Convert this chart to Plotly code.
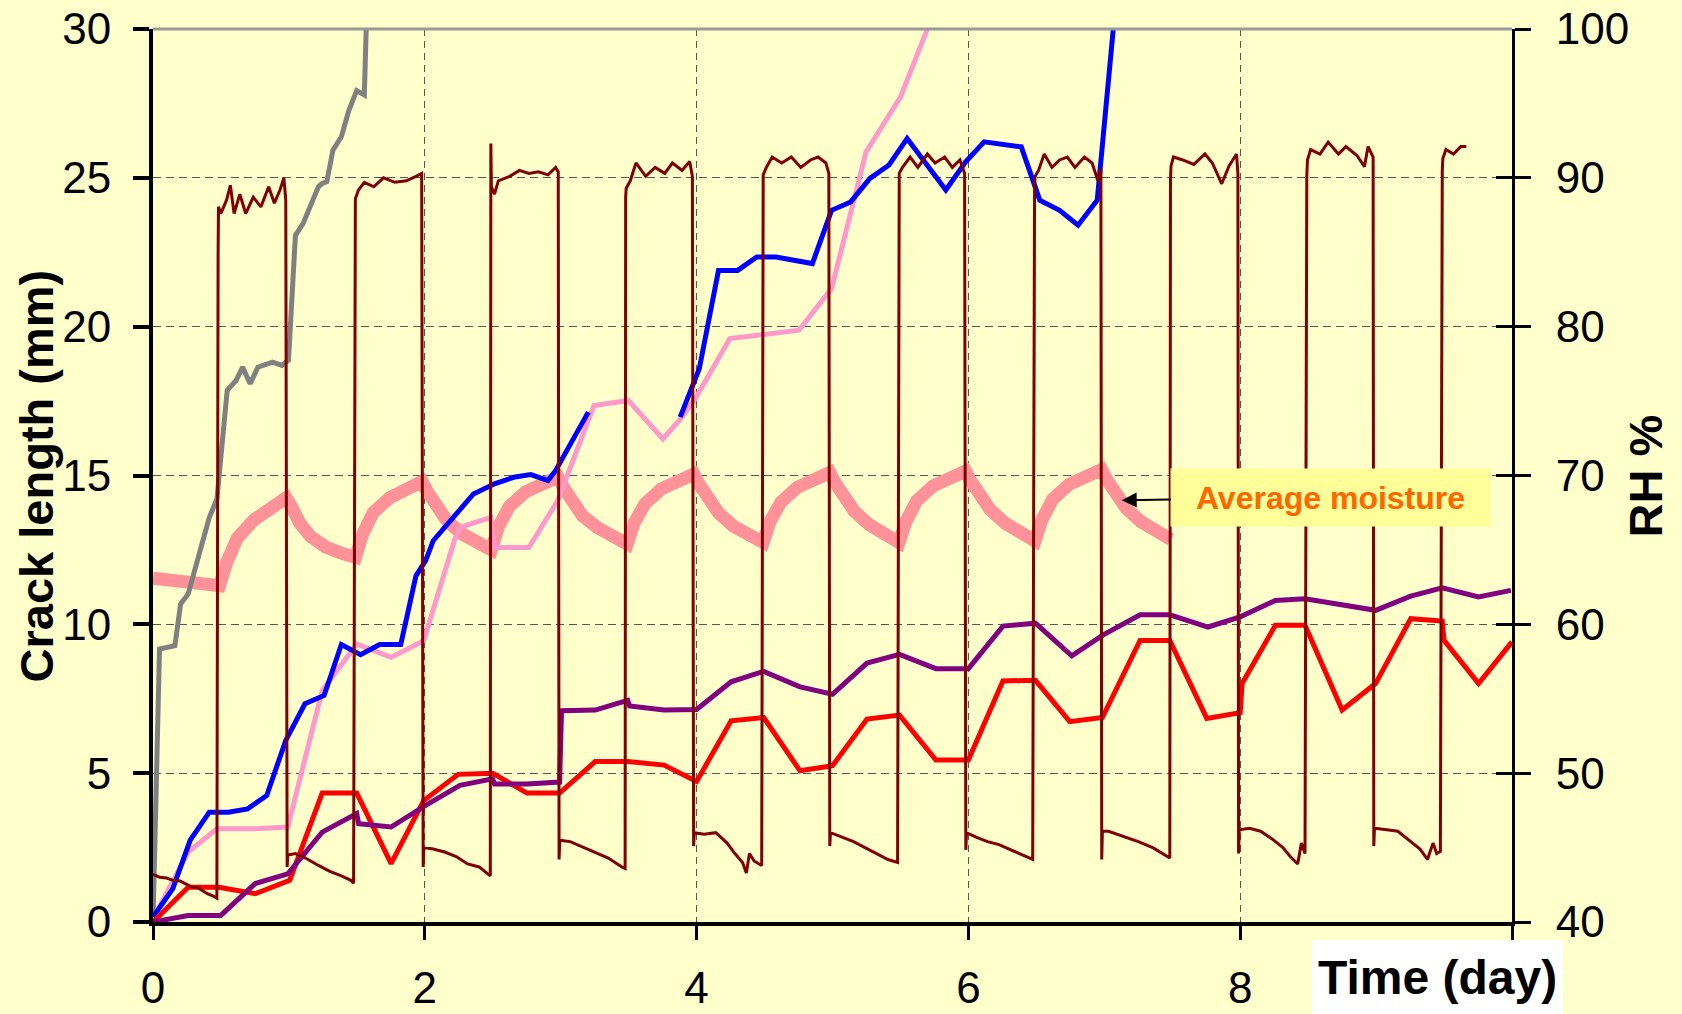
import plotly.graph_objects as go

# ---- crack length (mm) versus time (day), one series per specimen ----
gray_day = [0, 0.048, 0.161, 0.203, 0.259, 0.344, 0.414, 0.47, 0.546, 0.611, 0.659, 0.715,
            0.772, 0.879, 0.949, 0.997, 1.048, 1.104, 1.217, 1.245, 1.279, 1.324, 1.386,
            1.442, 1.499, 1.555, 1.569, 1.575]
gray_mm = [0, 9.17, 9.28, 10.68, 11.02, 12.47, 13.59, 14.2, 17.86, 18.19, 18.64, 18.08,
           18.64, 18.81, 18.70, 18.87, 23.07, 23.46, 24.70, 24.81, 24.87, 25.93, 26.38,
           27.28, 27.93, 27.78, 30.0, 31.0]

blue_day = [0, 0.146, 0.273, 0.414, 0.555, 0.696, 0.837, 0.977, 1.118, 1.259, 1.386, 1.527,
            1.668, 1.823, 1.935, 2.006, 2.062, 2.146, 2.259, 2.358, 2.513, 2.654, 2.780,
            2.907, 2.963, 3.048, 3.203, None, 3.879, 4.02, 4.161, 4.302, 4.443, 4.584,
            4.852, 4.993, 5.134, 5.275, 5.416, 5.549, 5.834, 5.98, 6.116, 6.389, 6.525,
            6.671, 6.807, 6.948, 7.066, 7.08]
blue_mm = [0.17, 1.12, 2.74, 3.69, 3.69, 3.80, 4.25, 6.10, 7.33, 7.61, 9.32, 8.98,
           9.32, 9.32, 11.63, 12.14, 12.81, 13.26, 13.81, 14.38, 14.72, 14.94, 15.03,
           14.83, 15.17, 15.84, 17.13, None, 16.96, 18.59, 21.89, 21.89, 22.34, 22.34,
           22.12, 23.91, 24.19, 24.98, 25.43, 26.32, 24.59, 25.54, 26.21, 26.04, 24.25,
           23.91, 23.41, 24.25, 30.0, 30.3]

pink_day = [0, 0.259, 0.470, 0.752, 0.992, 1.245, 1.499, 1.752, 1.992, 2.217, 2.259, 2.485,
            2.513, 2.766, 2.977, 3.245, 3.498, 3.752, 3.893, 3.99, 4.245, 4.471, 4.753,
            4.993, 5.247, 5.501, 5.698, 5.71]
pink_mm = [0.11, 2.35, 3.13, 3.13, 3.19, 7.77, 9.34, 8.89, 9.45, 12.81, 13.26, 13.59,
           12.58, 12.58, 14.15, 17.35, 17.52, 16.23, 16.96, 17.58, 19.60, 19.71, 19.88,
           21.28, 25.87, 27.72, 30.0, 30.3]

red_day = [0, 0.259, 0.485, 0.752, 1.006, 1.245, 1.499, 1.752, 1.992, 2.245, 2.499, 2.752,
           2.992, 3.254, 3.493, 3.76, 4.0, 4.254, 4.493, 4.761, 5.0, 5.254, 5.493, 5.761,
           6.0, 6.254, 6.493, 6.746, 6.986, 7.263, 7.482, 7.754, 8.0, 8.014, 8.259, 8.477,
           8.75, 8.996, 9.255, 9.487, 9.50, 9.754, 10.0]
red_mm = [0, 1.17, 1.17, 0.95, 1.40, 4.33, 4.33, 1.96, 4.08, 4.96, 5.0, 4.33,
          4.33, 5.39, 5.39, 5.27, 4.72, 6.76, 6.87, 5.08, 5.25, 6.82, 6.95, 5.44,
          5.44, 8.10, 8.12, 6.73, 6.87, 9.46, 9.46, 6.84, 7.03, 8.01, 9.97, 9.97,
          7.12, 8.01, 10.19, 10.11, 9.46, 8.01, 9.41]

purple_day = [0, 0.259, 0.499, 0.752, 0.992, 1.245, 1.499, 1.513, 1.752, 2.006, 2.259, 2.499,
              2.513, 2.752, 2.992, 3.006, 3.254, 3.493, 3.507, 3.76, 4.0, 4.254, 4.493,
              4.761, 5.0, 5.254, 5.493, 5.761, 6.0, 6.254, 6.493, 6.761, 6.986, 7.263,
              7.482, 7.763, 8.0, 8.259, 8.477, 8.996, 9.255, 9.487, 9.754, 9.992]
purple_mm = [0, 0.22, 0.22, 1.29, 1.62, 3.02, 3.64, 3.3, 3.19, 3.92, 4.59, 4.81,
             4.64, 4.64, 4.70, 7.10, 7.12, 7.45, 7.26, 7.12, 7.14, 8.07, 8.42,
             7.9, 7.65, 8.70, 8.99, 8.51, 8.51, 9.94, 10.04, 8.94, 9.63, 10.32,
             10.32, 9.91, 10.25, 10.80, 10.86, 10.47, 10.95, 11.23, 10.92, 11.14]

# ---- average moisture (plotted on the crack-length scale) ----
moist_day = [0.00, 0.15, 0.30, 0.49,
             0.54, 0.62, 0.74, 0.86, 0.98,
             1.02, 1.08, 1.16, 1.27, 1.38, 1.49,
             1.54, 1.62, 1.74, 1.86, 1.98,
             2.02, 2.08, 2.16, 2.27, 2.38, 2.49,
             2.54, 2.62, 2.74, 2.86, 2.98,
             3.02, 3.08, 3.16, 3.27, 3.38, 3.49,
             3.54, 3.62, 3.74, 3.86, 3.98,
             4.02, 4.08, 4.16, 4.27, 4.38, 4.49,
             4.54, 4.62, 4.74, 4.86, 4.98,
             5.02, 5.08, 5.16, 5.27, 5.38, 5.49,
             5.54, 5.62, 5.74, 5.86, 5.98,
             6.02, 6.08, 6.16, 6.27, 6.38, 6.49,
             6.54, 6.62, 6.74, 6.86, 6.98,
             7.02, 7.08, 7.16, 7.27, 7.38, 7.49]
moist_val = [11.55, 11.45, 11.35, 11.3,
             12.05, 12.9, 13.5, 13.9, 14.25,
             13.95, 13.4, 12.95, 12.6, 12.4, 12.25,
             13.0, 13.75, 14.25, 14.55, 14.8,
             14.45, 13.95, 13.5, 13.05, 12.75, 12.5,
             13.25, 13.95, 14.45, 14.75, 14.95,
             14.6, 14.1, 13.65, 13.25, 12.95, 12.7,
             13.4, 14.05, 14.55, 14.85, 15.05,
             14.7, 14.2, 13.75, 13.3, 13.0, 12.75,
             13.45, 14.1, 14.6, 14.9, 15.1,
             14.75, 14.25, 13.8, 13.35, 13.0, 12.75,
             13.45, 14.15, 14.65, 14.95, 15.15,
             14.8, 14.3, 13.85, 13.4, 13.05, 12.8,
             13.5, 14.2, 14.7, 15.0, 15.2,
             14.85, 14.35, 13.9, 13.45, 13.1, 12.85]

# ---- relative humidity (%) logged in the chamber ----
rh_day = [0.00, 0.05, 0.10, 0.146, 0.20, 0.25, 0.287, 0.33, 0.37, 0.40, 0.44, 0.47,
          0.479, 0.482, 0.499, 0.541, 0.569, 0.597, 0.639, 0.682, 0.738, 0.794, 0.851, 0.893, 0.935, 0.963, 0.977,
          0.987, 0.992, 1.048, 1.132, 1.217, 1.301, 1.386, 1.456, 1.476,
          1.485, 1.489, 1.513, 1.555, 1.625, 1.696, 1.780, 1.865, 1.935, 1.977,
          1.988, 1.993, 2.062, 2.146, 2.231, 2.315, 2.40, 2.47, 2.482,
          2.486, 2.49, 2.513, 2.541, 2.625, 2.696, 2.766, 2.837, 2.907, 2.963, 2.982,
          2.988, 2.993, 3.07, 3.21, 3.35, 3.45, 3.474,
          3.478, 3.482, 3.512, 3.554, 3.625, 3.695, 3.766, 3.822, 3.893, 3.949, 3.969,
          3.978, 3.983, 4.056, 4.141, 4.225, 4.282, 4.338, 4.366, 4.389, 4.423, 4.479,
          4.485, 4.49, 4.513, 4.556, 4.626, 4.697, 4.767, 4.838, 4.894, 4.951, 4.973,
          4.980, 4.985, 5.070, 5.155, 5.239, 5.324, 5.408, 5.479,
          5.487, 5.491, 5.515, 5.571, 5.628, 5.698, 5.755, 5.825, 5.882, 5.938, 5.972,
          5.981, 5.986, 6.056, 6.141, 6.225, 6.310, 6.394, 6.473,
          6.487, 6.491, 6.516, 6.558, 6.615, 6.671, 6.728, 6.784, 6.854, 6.910, 6.953, 6.975,
          6.981, 6.986, 7.031, 7.14, 7.25, 7.36, 7.454, 7.482,
          7.487, 7.491, 7.509, 7.577, 7.659, 7.741, 7.795, 7.864, 7.918, 7.973, 7.983,
          7.988, 7.993, 8.068, 8.150, 8.232, 8.314, 8.368, 8.423, 8.45, 8.477,
          8.490, 8.495, 8.518, 8.587, 8.647, 8.723, 8.778, 8.859, 8.914, 8.941, 8.978,
          8.983, 8.988, 9.078, 9.160, 9.241, 9.323, 9.378, 9.419, 9.446, 9.473,
          9.487, 9.491, 9.514, 9.569, 9.623, 9.664]
rh_pct = [43.2, 43.0, 42.95, 42.8, 42.75, 42.5, 42.35, 42.3, 42.05, 41.9, 41.75, 41.6,
          84.9, 88.05, 87.6, 88.5, 89.5, 87.6, 88.9, 87.6, 88.7, 88.05, 89.4, 88.3, 89.2, 90.0, 88.5,
          43.7, 44.5, 44.6, 44.25, 43.8, 43.4, 43.1, 42.8, 42.6,
          87.8, 88.6, 89.2, 89.7, 89.4, 90.0, 89.7, 89.8, 90.1, 90.3,
          43.7, 45.0, 44.9, 44.7, 44.4, 43.9, 43.7, 43.2, 43.1,
          92.3, 89.4, 88.9, 89.8, 90.1, 90.5, 90.3, 90.4, 90.2, 90.7, 90.4,
          44.2, 45.5, 45.4, 44.85, 44.3, 43.7, 43.6,
          88.7, 89.3, 89.8, 91.0, 90.1, 90.7, 90.3, 91.0, 90.5, 91.1, 90.1,
          45.1, 46.0, 45.9, 46.0, 45.3, 44.6, 44.0, 43.3, 44.6, 44.1, 43.8,
          89.4, 90.2, 90.7, 91.4, 91.0, 91.4, 90.7, 91.2, 91.4, 91.0, 90.3,
          45.1, 46.0, 45.7, 45.4, 45.0, 44.6, 44.2, 44.0,
          89.6, 90.3, 90.7, 91.4, 90.7, 91.6, 91.0, 91.4, 90.7, 91.2, 90.3,
          44.85, 46.0, 45.7, 45.4, 45.2, 44.85, 44.5, 44.2,
          89.4, 90.1, 90.5, 91.6, 90.7, 91.2, 91.4, 90.7, 91.4, 91.0, 89.8, 90.6,
          44.2, 46.1, 46.1, 45.76, 45.4, 44.98, 44.5, 44.3,
          89.9, 90.8, 91.4, 91.2, 90.9, 91.6, 91.0, 89.6, 90.8, 91.6, 90.3,
          44.6, 46.2, 46.3, 46.1, 45.6, 45.0, 44.4, 43.9, 45.3, 44.6,
          90.1, 91.2, 91.9, 91.6, 92.4, 91.6, 92.1, 91.5, 90.75, 92.1, 91.4,
          45.1, 46.3, 46.2, 46.1, 45.5, 44.9, 44.2, 45.3, 44.6, 44.75,
          90.5, 91.3, 91.9, 91.6, 92.1, 92.1]

x_ticks = [0, 2, 4, 6, 8, 10]
x_ticktext = ["0", "2", "4", "6", "8", ""]
mm_ticks = [0, 5, 10, 15, 20, 25, 30]
rh_ticks = [40, 50, 60, 70, 80, 90, 100]

FONT = "Liberation Sans, Arial, sans-serif"
BG = "#FFFFCC"

fig = go.Figure()

fig.add_trace(go.Scatter(x=moist_day, y=moist_val, mode="lines",
                         line=dict(color="rgb(255,145,152)", width=13), hoverinfo="skip"))
fig.add_trace(go.Scatter(x=gray_day, y=gray_mm, mode="lines",
                         line=dict(color="#808080", width=5)))
fig.add_trace(go.Scatter(x=pink_day, y=pink_mm, mode="lines",
                         line=dict(color="#FF99CC", width=5)))
fig.add_trace(go.Scatter(x=blue_day, y=blue_mm, mode="lines", connectgaps=False,
                         line=dict(color="#0000FF", width=5)))
fig.add_trace(go.Scatter(x=red_day, y=red_mm, mode="lines",
                         line=dict(color="#FF0000", width=5)))
fig.add_trace(go.Scatter(x=purple_day, y=purple_mm, mode="lines",
                         line=dict(color="#800080", width=5)))
fig.add_trace(go.Scatter(x=rh_day, y=rh_pct, mode="lines", yaxis="y2",
                         line=dict(color="#800000", width=3)))
# carrier for the inward half of the right-hand tick marks
fig.add_trace(go.Scatter(x=[], y=[], yaxis="y3", mode="lines", hoverinfo="skip"))

fig.update_layout(
    width=1682, height=1014,
    margin=dict(l=153, r=170, t=29, b=92, autoexpand=False),
    paper_bgcolor=BG, plot_bgcolor=BG,
    showlegend=False,
    font=dict(family=FONT, color="black"),
    xaxis=dict(range=[0, 10], tickvals=x_ticks, ticktext=x_ticktext, automargin=False,
               showgrid=True, gridcolor="#555555", gridwidth=1.2, griddash="7px,5px",
               showline=True, linecolor="black", linewidth=4,
               ticks="outside", ticklen=14, tickwidth=3, tickcolor="black",
               zeroline=False, tickfont=dict(size=44, family=FONT),
               ticklabelstandoff=10),
    yaxis=dict(range=[0, 30], tickvals=mm_ticks, automargin=False,
               showgrid=True, gridcolor="#555555", gridwidth=1.2, griddash="8px,5px",
               showline=True, linecolor="black", linewidth=4,
               ticks="outside", ticklen=16, tickwidth=4, tickcolor="black",
               zeroline=False, tickfont=dict(size=44, family=FONT),
               ticklabelstandoff=13),
    yaxis2=dict(range=[40, 100], tickvals=rh_ticks, overlaying="y", side="right",
                automargin=False,
                showgrid=False, showline=True, linecolor="black", linewidth=3,
                ticks="outside", ticklen=16, tickwidth=3, tickcolor="black",
                zeroline=False, tickfont=dict(size=44, family=FONT),
                ticklabelstandoff=16),
    yaxis3=dict(range=[40, 100], tickvals=rh_ticks, overlaying="y", side="right",
                automargin=False,
                showgrid=False, showline=False, showticklabels=False,
                ticks="inside", ticklen=16, tickwidth=3, tickcolor="black",
                zeroline=False),
)

fig.update_layout(shapes=[
    # grey frame line along the top of the plot
    dict(type="line", xref="paper", yref="paper", x0=0, x1=1, y0=1, y1=1,
         line=dict(color="#999999", width=3), layer="above"),
    # white panel behind the time-axis title
    dict(type="rect", xref="paper", yref="paper", x0=0.8526, x1=1.0375, y0=-0.0205, y1=-0.13,
         fillcolor="white", line=dict(width=0), layer="above"),
])

fig.update_layout(annotations=[
    dict(text="<b>Crack length (mm)</b>", xref="paper", yref="paper", x=-0.0854, y=0.5,
         textangle=-90, showarrow=False, xanchor="center", yanchor="middle",
         font=dict(size=47, family=FONT, color="black")),
    dict(text="<b>RH %</b>", xref="paper", yref="paper", x=1.0986, y=0.5,
         textangle=-90, showarrow=False, xanchor="center", yanchor="middle",
         font=dict(size=47, family=FONT, color="black")),
    dict(text="<b>Time (day)</b>", xref="paper", yref="paper", x=0.9452, y=-0.0625,
         showarrow=False, xanchor="center", yanchor="middle",
         font=dict(size=48, family=FONT, color="black")),
    dict(text="<b>Average moisture</b>", xref="x", yref="y", x=7.128, y=14.17,
         ax=209, ay=-3, showarrow=True, arrowhead=2, arrowsize=1.5, arrowwidth=2,
         arrowcolor="black", bgcolor="#FFFF99", width=319, height=57, borderpad=0,
         font=dict(size=32, family=FONT, color="#FF6600")),
])

fig.write_html("out.html")
